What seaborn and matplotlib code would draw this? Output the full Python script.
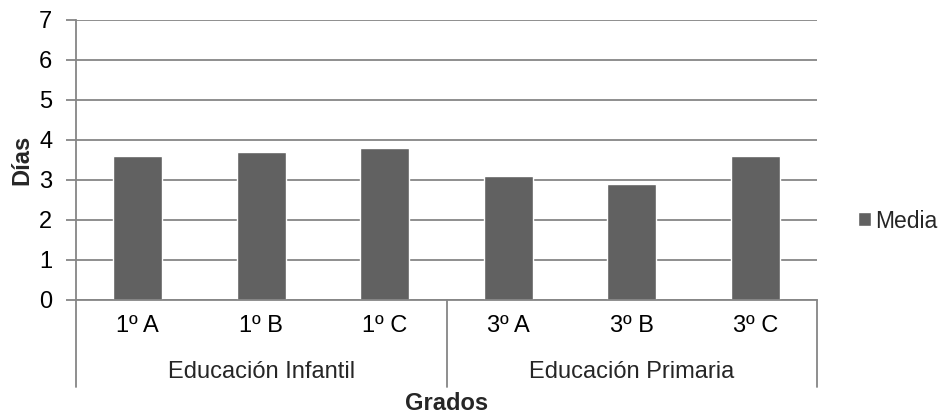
import matplotlib
matplotlib.use("Agg")
import matplotlib.pyplot as plt
import matplotlib.transforms as mtransforms
import pandas as pd
import seaborn as sns

# Mean days per class group
grados = ["1º A", "1º B", "1º C", "3º A", "3º B", "3º C"]
media = [3.6, 3.7, 3.8, 3.1, 2.9, 3.6]
etapas = ["Educación Infantil", "Educación Primaria"]
grupos_por_etapa = [3, 3]
serie = "Media"

sns.set_theme(style="white")
plt.rcParams["font.family"] = ["Liberation Sans", "DejaVu Sans"]

df = pd.DataFrame({"Grado": grados, "Días": media, "Serie": [serie] * len(grados)})

fig = plt.figure(figsize=(9.41, 4.17), dpi=100)
W, H = 941, 417
x0, x1, y_top, y_zero = 76, 817, 20, 300
ax = fig.add_axes([x0 / W, 1 - y_zero / H, (x1 - x0) / W, (y_zero - y_top) / H])

grid_c = "#868686"
bar_c = "#616161"

sns.barplot(data=df, x="Grado", y="Días", hue="Serie", palette=[bar_c],
            width=0.4, dodge=False, ax=ax, legend=True, saturation=1)

ax.set_ylim(0, 7)
ax.set_xlim(-0.5, len(grados) - 0.5)
ax.set_yticks(range(0, 8))
ax.yaxis.grid(True, color=grid_c, linewidth=1.3)
ax.set_axisbelow(True)
fs = 17
ax.tick_params(axis="y", labelsize=fs, length=7, width=1.3, color=grid_c,
               left=True, pad=10, labelcolor="black")
ax.tick_params(axis="x", labelsize=fs, length=0, pad=11, labelcolor="black")
ax.set_xticks(range(len(grados)))
ax.set_xticklabels(grados)

for s in ["top", "right"]:
    ax.spines[s].set_visible(False)
for s in ["left", "bottom"]:
    ax.spines[s].set_color(grid_c)
    ax.spines[s].set_linewidth(1.3)

# Two-level category axis: stage labels and separators
trans = mtransforms.blended_transform_factory(ax.transData, ax.transAxes)
span = y_zero - y_top
y_low = -(387 - y_zero) / span
ax.plot([-0.5, -0.5], [y_low, 0], transform=trans, color=grid_c, lw=1.3, clip_on=False)
start = 0
for etapa, n in zip(etapas, grupos_por_etapa):
    end = start + n
    ax.plot([end - 0.5, end - 0.5], [y_low, 0], transform=trans, color=grid_c,
            lw=1.3, clip_on=False)
    ax.text((start + end - 1) / 2, -(372 - y_zero) / span, etapa,
            transform=trans, ha="center", va="center", fontsize=fs)
    start = end

ax.set_xlabel("Grados", fontsize=fs, fontweight="bold", va="center")
ax.xaxis.set_label_coords(0.5, -(403 - y_zero) / span)
ax.set_ylabel("Días", fontsize=fs, fontweight="bold", va="center")
ax.yaxis.set_label_coords(-(x0 - 22) / (x1 - x0), (y_zero - 160) / span)

leg = ax.legend(loc="center left", bbox_to_anchor=(858 / W, 1 - 221 / H),
                bbox_transform=fig.transFigure, frameon=False, fontsize=16.5,
                handlelength=0.56, handleheight=0.56, handletextpad=0.2,
                borderaxespad=0, borderpad=0)

fig.savefig("out.png", dpi=100)
